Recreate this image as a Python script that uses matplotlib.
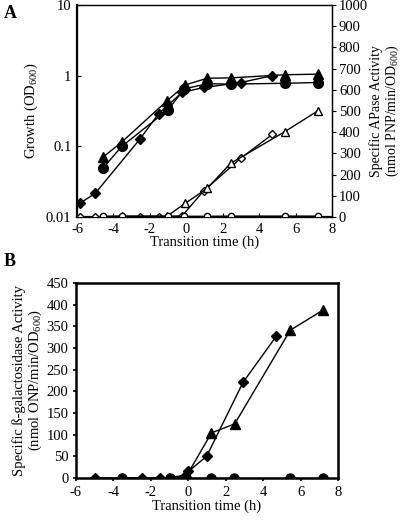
import matplotlib
matplotlib.use("Agg")
import matplotlib.pyplot as plt

plt.rcParams["font.family"] = ["Liberation Serif", "DejaVu Serif"]
plt.rcParams["mathtext.fontset"] = "custom"
plt.rcParams["mathtext.rm"] = "Liberation Serif"
plt.rcParams["mathtext.it"] = "Liberation Serif:italic"
plt.rcParams["axes.unicode_minus"] = False
plt.rcParams["font.size"] = 10.5

# ---------------- Panel A: growth (OD600, log) ----------------
t_dia_a = [-5.85, -5.0, -2.53, -1.52, -0.23, 0.96, 2.99, 4.73]
od_dia = [0.0156, 0.0216, 0.128, 0.29, 0.58, 0.68, 0.80, 1.0]
t_tri_a = [-4.55, -3.54, -1.06, -0.05, 1.15, 2.43, 5.4, 7.21]
od_tri = [0.071, 0.115, 0.44, 0.74, 0.92, 0.93, 1.03, 1.05]
t_cir_a = [-4.55, -3.54, -1.0, -0.1, 1.15, 2.43, 5.4, 7.21]
od_cir = [0.05, 0.10, 0.33, 0.65, 0.77, 0.76, 0.78, 0.80]

# APase activity (open symbols, right axis)
apase_dia = [0, 0, 0, 0, 5, 124, 277, 390]
apase_tri = [2, 4, 4, 65, 135, 253, 402, 500]
apase_cir = [3, 3, 3, 3, 3, 4, 4, 4]

# ---------------- Panel B: beta-galactosidase ----------------
t_tri_b = [-3.54, -1.03, -0.05, 1.24, 2.48, 5.45, 7.18]
bgal_tri = [0, 0, 8, 104, 125, 341, 387]
t_dia_b = [-5.0, -2.5, -1.5, -0.25, 0.0, 0.98, 2.93, 4.7]
bgal_dia = [0, 0, 0, 2, 15, 50, 221, 327]
t_cir_b = [-3.54, -1.0, -0.1, 1.24, 2.45, 5.45, 7.18]
bgal_cir = [0, 0, 0, 0, 0, 0, 0]

xticks = [-6, -4, -2, 0, 2, 4, 6, 8]

fig = plt.figure(figsize=(4.0, 5.2), dpi=100)

# ---- A ----
ax = fig.add_axes([0.1925, 0.5827, 0.6375, 0.4077])
ax.plot(t_dia_a, od_dia, "-D", color="black", lw=1, ms=5.5)
ax.plot(t_tri_a, od_tri, "-^", color="black", lw=1, ms=7)
ax.plot(t_cir_a, od_cir, "-o", color="black", lw=1, ms=7)
ax.set_yscale("log")
ax.set_ylim(0.01, 10)
ax.set_xlim(-6, 8)
ax.set_xticks(xticks)
ax.set_yticks([0.01, 0.1, 1, 10])
ax.set_yticklabels(["0.01", "0.1", "1", "10"])
ax.minorticks_off()
ax.tick_params(axis="both", direction="in", length=3, width=0.8, pad=4)
ax.set_ylabel("Growth (OD$_{600}$)", labelpad=4)
ax.set_xlabel("Transition time (h)", labelpad=0)
for s in ax.spines.values():
    s.set_linewidth(1.0)
ax.spines["left"].set_linewidth(1.6)
ax.spines["bottom"].set_linewidth(1.6)

ax2 = ax.twinx()
ax2.plot(t_dia_a, apase_dia, "-D", color="black", mfc="white", lw=1, ms=4.5)
ax2.plot(t_tri_a, apase_tri, "-^", color="black", mfc="white", lw=1, ms=6)
ax2.plot(t_cir_a, apase_cir, "-o", color="black", mfc="white", lw=1, ms=4.5)
ax2.set_ylim(0, 1000)
ax2.set_yticks(range(0, 1001, 100))
ax2.tick_params(axis="y", direction="out", length=3, width=0.8, pad=2)
ax2.set_ylabel("Specific APase Activity\n(nmol PNP/min/OD$_{600}$)", labelpad=1,
               linespacing=1.0, fontsize=10)

fig.text(0.01, 0.965, "A", fontsize=13, fontweight="bold")

# ---- B ----
bx = fig.add_axes([0.19, 0.0808, 0.655, 0.375])
bx.plot(t_dia_b, bgal_dia, "-D", color="black", lw=1, ms=5.5)
bx.plot(t_tri_b, bgal_tri, "-^", color="black", lw=1, ms=7)
bx.plot(t_cir_b, bgal_cir, "-o", color="black", lw=1, ms=6.5)
bx.set_xlim(-6, 8)
bx.set_ylim(0, 450)
bx.set_xticks(xticks)
bx.set_yticks(range(0, 451, 50))
bx.tick_params(axis="both", direction="out", length=2.5, width=1.2, pad=3)
bx.set_xlabel("Transition time (h)", labelpad=1)
bx.set_ylabel("Specific ß-galactosidase Activity\n(nmol ONP/min/OD$_{600}$)",
              labelpad=2, linespacing=1.0)
for s in bx.spines.values():
    s.set_linewidth(1.8)

fig.text(0.01, 0.488, "B", fontsize=13, fontweight="bold")

fig.savefig("out.png", dpi=100)
